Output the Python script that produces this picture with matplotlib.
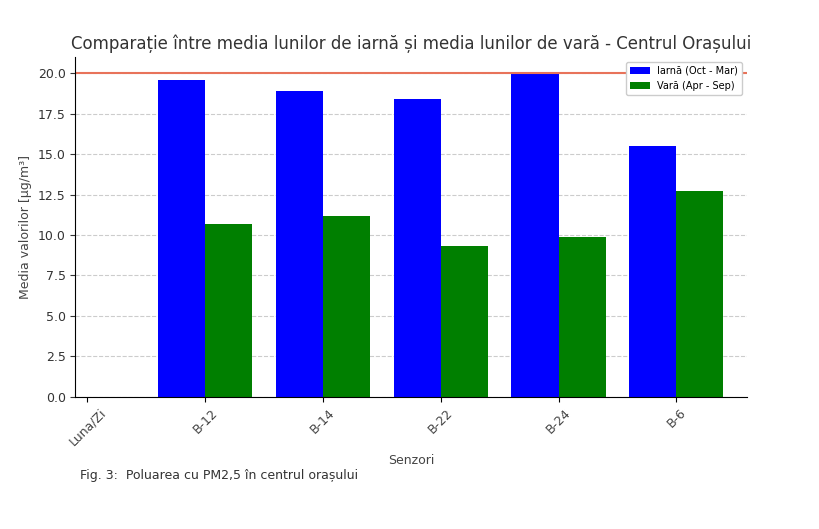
import numpy as np
import matplotlib.pyplot as plt

# Sensor averages (µg/m³)
categories = ["Luna/Zi", "B-12", "B-14", "B-22", "B-24", "B-6"]
winter = [19.6, 18.9, 18.4, 20.05, 15.5]
summer = [10.7, 11.2, 9.35, 9.9, 12.75]
limit = 20

fig = plt.figure(figsize=(8.2, 5.29), dpi=100)
ax = fig.add_axes([0.092, 0.25, 0.819, 0.642])

x = np.arange(1, len(categories))
w = 0.4
ax.bar(x - w / 2, winter, w, color="#0000ff", label="Iarnă (Oct - Mar)")
ax.bar(x + w / 2, summer, w, color="#007f00", label="Vară (Apr - Sep)")
ax.axhline(limit, color="#e8735a", lw=1.5)

ax.set_xticks(range(len(categories)))
ax.set_xticklabels(categories, rotation=45, fontsize=9, color="#444444")
ax.set_xlim(-0.1, 5.6)
ax.set_ylim(0, 21)
ax.set_yticks(np.arange(0, 20.1, 2.5))
ax.tick_params(axis="y", labelsize=9, colors="#333333")
ax.yaxis.grid(True, linestyle="--", color="#cccccc", lw=0.8)
ax.set_axisbelow(True)
for s in ["top", "right"]:
    ax.spines[s].set_visible(False)

ax.set_title("Comparație între media lunilor de iarnă și media lunilor de vară - Centrul Orașului",
             fontsize=12, color="#333333")
ax.set_xlabel("Senzori", fontsize=9, color="#444444")
ax.set_ylabel("Media valorilor [µg/m³]", fontsize=9, color="#444444")
ax.legend(loc="upper right", fontsize=7, framealpha=1)

fig.text(0.097, 0.094, "Fig. 3:  Poluarea cu PM2,5 în centrul orașului", fontsize=9, color="#333333")

fig.savefig("out.png", dpi=100)
